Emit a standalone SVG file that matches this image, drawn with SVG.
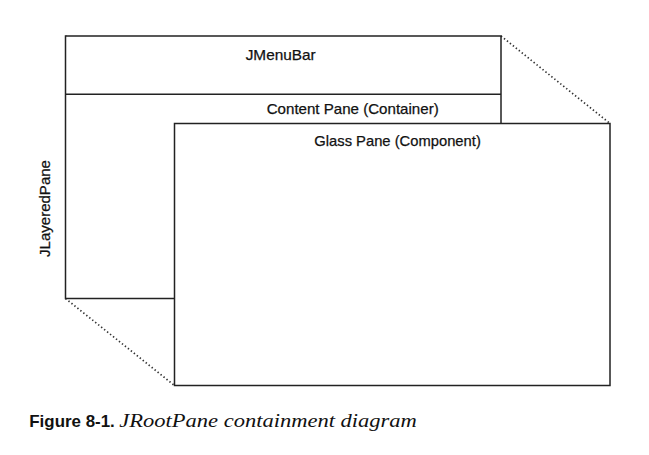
<svg xmlns="http://www.w3.org/2000/svg" width="649" height="455" viewBox="0 0 649 455">
<style>
.box{fill:#fff;stroke:#222;stroke-width:1.5}
.ln{stroke:#222;stroke-width:1.5;fill:none}
.dot{stroke:#333;stroke-width:1.7;stroke-dasharray:1.4 2.4;fill:none}
.lbl{font-family:"Liberation Sans",Arial,sans-serif;font-size:15px;fill:#111;stroke:#111;stroke-width:0.25}
</style>
<rect width="649" height="455" fill="#fff"/>
<g id="connectors">
<line class="dot" x1="65.5" y1="36" x2="174.5" y2="123.5"/>
<line class="dot" x1="501" y1="36" x2="610" y2="123.5"/>
<line class="dot" x1="65.5" y1="298.5" x2="174.5" y2="385.5"/>
</g>
<g id="jlayeredpane">
<rect class="box" x="65.5" y="36" width="435.5" height="262.5"/>
<text class="lbl" transform="translate(49.5,257) rotate(-90)" textLength="97" lengthAdjust="spacingAndGlyphs">JLayeredPane</text>
</g>
<g id="jmenubar">
<text class="lbl" x="245.7" y="59.5" textLength="70" lengthAdjust="spacingAndGlyphs">JMenuBar</text>
</g>
<g id="contentpane">
<line class="ln" x1="65.5" y1="94.3" x2="501" y2="94.3"/>
<text class="lbl" x="266.7" y="114" textLength="172" lengthAdjust="spacingAndGlyphs">Content Pane (Container)</text>
</g>
<g id="glasspane">
<rect class="box" x="174.5" y="123.5" width="435.5" height="262"/>
<text class="lbl" x="314.3" y="146" textLength="166.5" lengthAdjust="spacingAndGlyphs">Glass Pane (Component)</text>
</g>
<g id="caption">
<text x="29.3" y="426.7" font-family="Liberation Sans,Arial,sans-serif" font-weight="bold" font-size="16.5" fill="#111" textLength="85.5" lengthAdjust="spacingAndGlyphs">Figure 8-1.</text>
<text x="119.3" y="426.7" font-family="Liberation Serif,Times New Roman,serif" font-style="italic" font-size="18.5" fill="#111" textLength="297.5" lengthAdjust="spacingAndGlyphs">JRootPane containment diagram</text>
</g>
</svg>
